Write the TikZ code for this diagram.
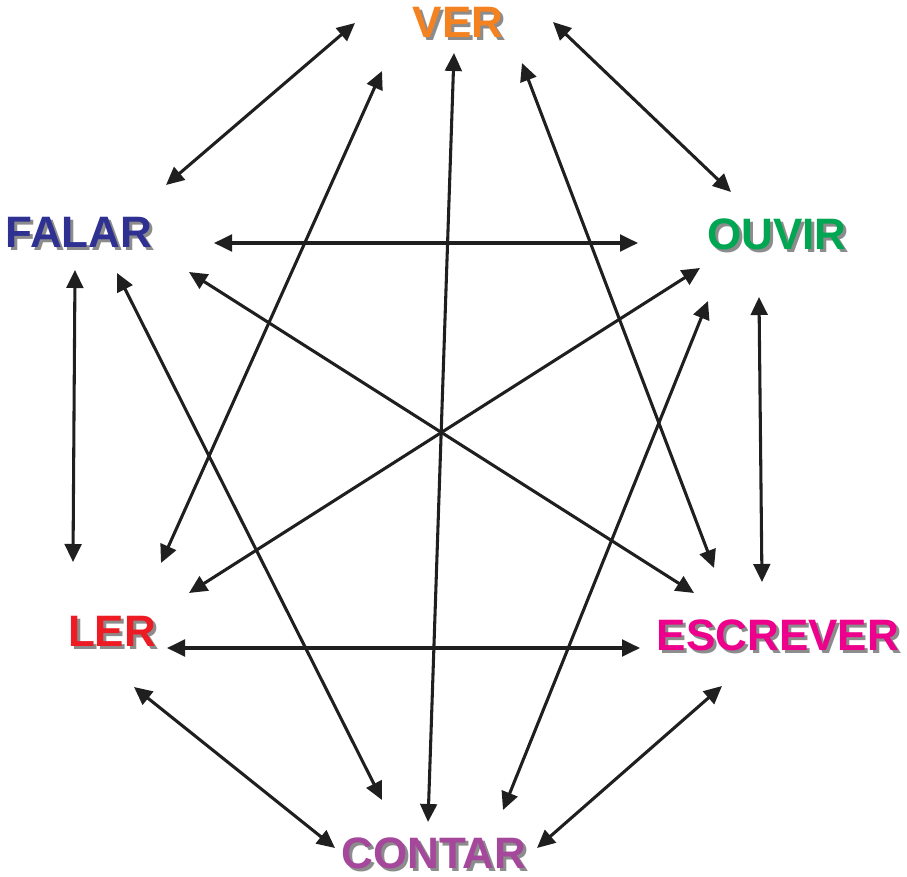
\documentclass[tikz,border=0pt]{standalone}
\usepackage{fontspec}
\setmainfont{Liberation Sans}
\usetikzlibrary{arrows.meta}

\definecolor{cVer}{HTML}{F58220}
\definecolor{cFalar}{HTML}{2E3192}
\definecolor{cOuvir}{HTML}{00A651}
\definecolor{cLer}{HTML}{ED1C24}
\definecolor{cEscrever}{HTML}{EC008C}
\definecolor{cContar}{HTML}{A5479B}
\definecolor{cShadow}{HTML}{8C8C8C}

\tikzset{
  word/.style={anchor=base, inner sep=0pt, font=\fontsize{33}{39}\selectfont\bfseries},
  link/.style={draw=black!88, line width=2.3pt,
    {Triangle[length=13.5pt,width=12.5pt]}-{Triangle[length=13.5pt,width=12.5pt]}}
}

% coloured word with a grey drop shadow
\newcommand{\shadowword}[4]{%
  \node[word, text=cShadow] at ([shift={(3,3)}]#2) {#4};
  \node[word, text=#3] (#1) at (#2) {#4};
}

\begin{document}
\begin{tikzpicture}[x=0.75pt,y=-0.75pt]
  \useasboundingbox (0,0) rectangle (907,877);

  % the six words
  \shadowword{ver}{458,37.5}{cVer}{VER}
  \shadowword{falar}{79,248}{cFalar}{FALAR}
  \shadowword{ouvir}{777,250}{cOuvir}{OUVIR}
  \shadowword{ler}{112,646}{cLer}{LER}
  \shadowword{escrever}{778,650}{cEscrever}{ESCREVER}
  \shadowword{contar}{434,868}{cContar}{CONTAR}

  % arrow end points around each word
  \coordinate (ver-fa) at (355,23);
  \coordinate (ver-ou) at (553,22);
  \coordinate (ver-le) at (382,71);
  \coordinate (ver-co) at (454,53);
  \coordinate (ver-es) at (522,63);

  \coordinate (fa-ve) at (166,185);
  \coordinate (fa-ou) at (214,243);
  \coordinate (fa-es) at (189,272);
  \coordinate (fa-co) at (117,273);
  \coordinate (fa-le) at (75,270);

  \coordinate (ou-ve) at (731,192);
  \coordinate (ou-fa) at (638,243);
  \coordinate (ou-le) at (700,268);
  \coordinate (ou-co) at (708,301);
  \coordinate (ou-es) at (759,297);

  \coordinate (le-fa) at (73,562);
  \coordinate (le-ve) at (161,563);
  \coordinate (le-ou) at (189,593);
  \coordinate (le-es) at (167,648);
  \coordinate (le-co) at (134,687);

  \coordinate (es-ve) at (714,568);
  \coordinate (es-fa) at (694,593);
  \coordinate (es-ou) at (762,582);
  \coordinate (es-le) at (640,648);
  \coordinate (es-co) at (722,686);

  \coordinate (co-fa) at (382,800);
  \coordinate (co-ve) at (428,822);
  \coordinate (co-ou) at (503,810);
  \coordinate (co-le) at (335,848);
  \coordinate (co-es) at (537,848);

  % connectors, each a two-headed arrow
  \draw[link] (ver-fa) -- (fa-ve);
  \draw[link] (ver-ou) -- (ou-ve);
  \draw[link] (ver-le) -- (le-ve);
  \draw[link] (ver-co) -- (co-ve);
  \draw[link] (ver-es) -- (es-ve);
  \draw[link] (fa-ou) -- (ou-fa);
  \draw[link] (fa-es) -- (es-fa);
  \draw[link] (fa-co) -- (co-fa);
  \draw[link] (fa-le) -- (le-fa);
  \draw[link] (ou-le) -- (le-ou);
  \draw[link] (ou-co) -- (co-ou);
  \draw[link] (ou-es) -- (es-ou);
  \draw[link] (le-es) -- (es-le);
  \draw[link] (le-co) -- (co-le);
  \draw[link] (es-co) -- (co-es);
\end{tikzpicture}
\end{document}
